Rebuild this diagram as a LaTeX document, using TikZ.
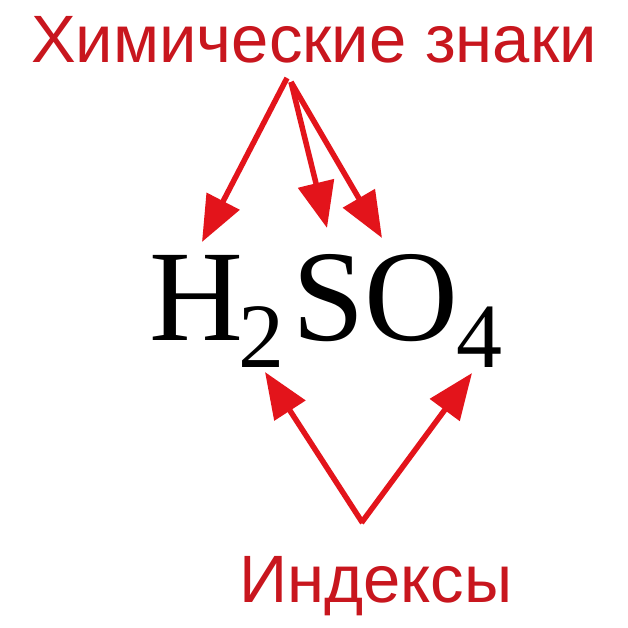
\documentclass[tikz,border=0pt]{standalone}
\usepackage{fontspec}
\setmainfont{Liberation Serif}
\newfontfamily\labfont{Liberation Sans}
\usetikzlibrary{arrows.meta}
\definecolor{labred}{HTML}{C8161E}
\definecolor{arrred}{HTML}{E3141B}
\tikzset{
  lab/.style={text=labred, font=\labfont\fontsize{67}{67}\selectfont, inner sep=0, anchor=base},
  chem/.style={text=black, font=\fontsize{130}{130}\selectfont, inner sep=0, anchor=base west},
  chemsub/.style={text=black, font=\fontsize{92}{92}\selectfont, inner sep=0, anchor=base west},
  redarrow/.style={draw=arrred, line width=5.5pt, -{Triangle[length=46pt,width=36pt]}}
}
\begin{document}
\begin{tikzpicture}[x=1pt,y=-1pt]
\useasboundingbox[fill=white] (0,0) rectangle (628,628);
\node[lab] (top) at (314,63) {Химические знаки};
\node[lab] (bot) at (376,602) {Индексы};
\node[chem] (H) at (149,340) {H};
\node[chemsub] (two) at (238,367) {2};
\node[chem] (SO) at (292,340) {SO};
\node[chemsub] (four) at (456,367) {4};
\coordinate (ts) at (287,78);
\coordinate (ts2) at (291,82);
\coordinate (tH) at (202,242);
\coordinate (tS) at (327,228);
\coordinate (tO) at (382,238);
\coordinate (bv) at (362,522);
\coordinate (b2) at (265,372);
\coordinate (b4) at (472,373);
\draw[redarrow] (ts) -- (tH);
\draw[redarrow] (ts2) -- (tS);
\draw[redarrow] (ts2) -- (tO);
\draw[redarrow, shorten <=-1pt] (bv) -- (b2);
\draw[redarrow, shorten <=-1pt] (bv) -- (b4);
\end{tikzpicture}
\end{document}
